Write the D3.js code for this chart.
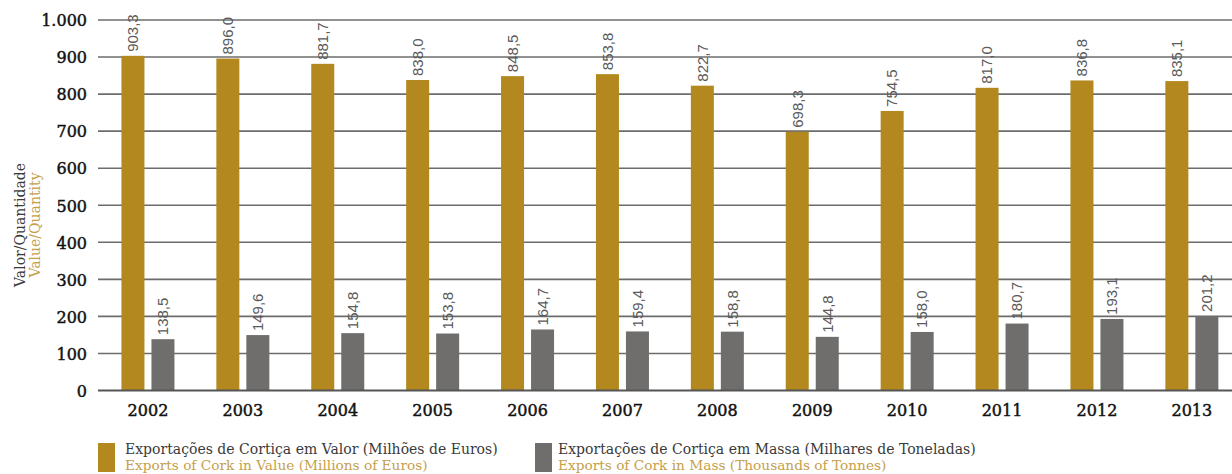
<!DOCTYPE html>
<html>
<head>
<meta charset="utf-8">
<script src="https://cdn.jsdelivr.net/npm/d3@7"></script>
<style>
  html, body { margin: 0; padding: 0; background: #fff; }
  svg { display: block; }
</style>
</head>
<body>
<svg id="chart" width="1232" height="474"></svg>
<script>
// Cork exports, Portugal, 2002-2013
const years = ["2002","2003","2004","2005","2006","2007","2008","2009","2010","2011","2012","2013"];
const valueMillionsEuro = [903.3, 896.0, 881.7, 838.0, 848.5, 853.8, 822.7, 698.3, 754.5, 817.0, 836.8, 835.1];
const massThousandTonnes = [138.5, 149.6, 154.8, 153.8, 164.7, 159.4, 158.8, 144.8, 158.0, 180.7, 193.1, 201.2];
const yTicks = [0, 100, 200, 300, 400, 500, 600, 700, 800, 900, 1000];

const seriesNames = [
  { pt: "Exportações de Cortiça em Valor (Milhões de Euros)", en: "Exports of Cork in Value (Millions of Euros)" },
  { pt: "Exportações de Cortiça em Massa (Milhares de Toneladas)", en: "Exports of Cork in Mass (Thousands of Tonnes)" }
];
const seriesValues = [valueMillionsEuro, massThousandTonnes];

const GOLD = "#b2881f";
const GREY = "#6f6e6c";
const GOLD_TEXT = "#c6a04a";
const DARK_TEXT = "#3a3a3a";
const serif = "'DejaVu Serif', serif";

const svg = d3.select("#chart");
const W = 1232;

const y = d3.scaleLinear().domain([0, 1000]).range([390.5, 20]);
const x = d3.scaleBand().domain(years).range([100.5, 100.5 + 94.9 * years.length]);
const barW = 23, barGap = 7;
// offsets of the two bars inside each year group
const inner = d3.scaleOrdinal().domain([0, 1]).range([-(barW + barGap / 2), barGap / 2]);

// Horizontal grid lines
svg.append("g")
  .selectAll("line")
  .data(yTicks.filter(d => d > 0))
  .join("line")
  .attr("x1", 98).attr("x2", W)
  .attr("y1", d => y(d)).attr("y2", d => y(d))
  .attr("stroke", "#6c6c6c").attr("stroke-width", 1.6);

// Y axis tick labels
const yAxis = d3.axisLeft(y)
  .tickValues(yTicks)
  .tickSize(0)
  .tickPadding(0)
  .tickFormat(d => d3.format(",")(d).replace(/,/g, "."));
const gy = svg.append("g").attr("transform", "translate(87,0)").call(yAxis);
gy.select(".domain").remove();
gy.selectAll("text")
  .attr("font-family", serif)
  .attr("font-size", 16)
  .attr("fill", "#111")
  .attr("stroke", "#111")
  .attr("stroke-width", 0.45)
  .attr("dy", "0.36em");

// Bars
const groups = svg.append("g")
  .selectAll("g")
  .data(years)
  .join("g")
  .attr("transform", d => `translate(${x(d) + x.bandwidth() / 2},0)`);

[0, 1].forEach(s => {
  groups.append("rect")
    .attr("x", inner(s))
    .attr("width", barW)
    .attr("y", (d, i) => y(seriesValues[s][i]))
    .attr("height", (d, i) => y(0) - y(seriesValues[s][i]))
    .attr("fill", s === 0 ? GOLD : GREY);

  groups.append("text")
    .attr("transform", (d, i) => `translate(${inner(s) + barW / 2},${y(seriesValues[s][i]) - 4}) rotate(-90)`)
    .attr("dy", "0.35em")
    .attr("font-family", "'Liberation Sans', Arial, sans-serif")
    .attr("font-size", 15)
    .attr("fill", "#5a5a5a")
    .text((d, i) => d3.format(".1f")(seriesValues[s][i]).replace(".", ","));
});

// Baseline
svg.append("line")
  .attr("x1", 98).attr("x2", W)
  .attr("y1", y(0)).attr("y2", y(0))
  .attr("stroke", "#555").attr("stroke-width", 2);

// X axis labels
const xAxis = d3.axisBottom(x).tickSize(0).tickPadding(0);
const gx = svg.append("g").attr("transform", "translate(0,416)").call(xAxis);
gx.select(".domain").remove();
gx.selectAll("text")
  .attr("font-family", serif)
  .attr("font-size", 16)
  .attr("fill", "#111")
  .attr("stroke", "#111")
  .attr("stroke-width", 0.45)
  .attr("dy", 0);

// Y axis title
const yt = svg.append("g").attr("transform", "translate(0,225) rotate(-90)");
yt.append("text").attr("x", 0).attr("y", 25)
  .attr("text-anchor", "middle")
  .attr("font-family", serif).attr("font-size", 14)
  .attr("fill", DARK_TEXT).text("Valor/Quantidade");
yt.append("text").attr("x", 0).attr("y", 40)
  .attr("text-anchor", "middle")
  .attr("font-family", serif).attr("font-size", 14)
  .attr("fill", GOLD_TEXT).text("Value/Quantity");

// Legend
const legendX = [98, 535];
const legend = svg.append("g")
  .selectAll("g")
  .data(seriesNames)
  .join("g")
  .attr("transform", (d, i) => `translate(${legendX[i]},443)`);
legend.append("rect")
  .attr("width", 17).attr("height", 29)
  .attr("fill", (d, i) => i === 0 ? GOLD : GREY);
legend.append("text")
  .attr("x", (d, i) => i === 0 ? 27 : 23).attr("y", 11)
  .attr("font-family", serif).attr("font-size", 14)
  .attr("fill", DARK_TEXT).text(d => d.pt);
legend.append("text")
  .attr("x", (d, i) => i === 0 ? 27 : 23).attr("y", 27)
  .attr("font-family", serif).attr("font-size", 13.7)
  .attr("fill", GOLD_TEXT).text(d => d.en);
</script>
</body>
</html>
